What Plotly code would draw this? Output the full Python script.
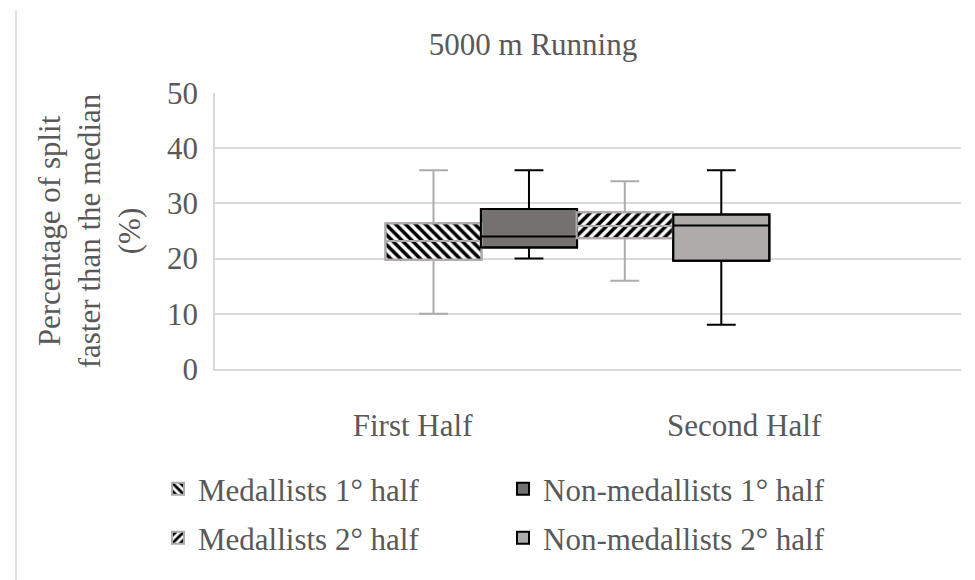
import plotly.graph_objects as go

# ---- data ----
categories = ["First Half", "Second Half"]
series = ["Medallists 1° half", "Non-medallists 1° half",
          "Medallists 2° half", "Non-medallists 2° half"]
lower_whisker = [10, 20, 16, 8]
q1_values = [19.8, 22.0, 23.7, 19.6]
median_values = [23.2, 24.0, 25.9, 26.0]
q3_values = [26.4, 29.0, 28.4, 28.0]
upper_whisker = [36, 36, 34, 36]

# ---- layout / style constants ----
box_pos = [1.063, 1.351, 1.640, 1.931]
box_w = 0.29
line_cols = ["#AFABAB", "#000000", "#AFABAB", "#000000"]
fills = ["white", "#767171", "white", "#AFABAB"]
patterns = ["\\", "", "/", ""]
legend_ids = ["legend", "legend", "legend2", "legend2"]
FONT = "Liberation Serif"
TXT = "#595959"
FS = 31
OFF = 8  # page body margin

fig = go.Figure()
for i, name in enumerate(series):
    pat = (dict(shape=patterns[i], fgcolor="black", bgcolor="white",
                size=7, solidity=0.5, fillmode="replace", fgopacity=1)
           if patterns[i] else dict(shape=""))
    fig.add_trace(go.Bar(
        x=[box_pos[i]], y=[q3_values[i] - q1_values[i]], base=[q1_values[i]],
        width=box_w, name=name, legend=legend_ids[i],
        marker=dict(color=fills[i], pattern=pat, opacity=1,
                    line=dict(color=line_cols[i], width=2)),
        hoverinfo="skip"))
for i, name in enumerate(series):
    fig.add_trace(go.Box(
        x=[box_pos[i]], q1=[q1_values[i]], median=[median_values[i]],
        q3=[q3_values[i]], lowerfence=[lower_whisker[i]],
        upperfence=[upper_whisker[i]], width=box_w, whiskerwidth=0.3,
        fillcolor="rgba(0,0,0,0)", line=dict(color=line_cols[i], width=2),
        boxpoints=False, showlegend=False, hoverinfo="skip", name=name))

fig.update_layout(
    width=975, height=580,
    margin=dict(l=215 - OFF, r=22, t=93 - OFF, b=219),
    paper_bgcolor="white", plot_bgcolor="white",
    barmode="overlay", boxmode="overlay",
    font=dict(family=FONT, size=FS, color=TXT),
    title=dict(text="5000 m Running", x=(533 - OFF) / 975, xref="container",
               xanchor="center", y=1 - (44 - OFF) / 580, yref="container",
               yanchor="middle", font=dict(size=FS, color=TXT, family=FONT)),
    xaxis=dict(range=[0.404, 2.654], tickvals=[1, 2], ticktext=categories,
               showgrid=False, zeroline=False, showline=True,
               linecolor="#D9D9D9", linewidth=1.5, ticks="",
               ticklabelstandoff=28, tickfont=dict(size=FS, color=TXT)),
    yaxis=dict(range=[0, 50], dtick=10, showgrid=True, gridcolor="#D9D9D9",
               gridwidth=1.5, zeroline=False, showline=True,
               linecolor="#D9D9D9", linewidth=1.5, ticks="",
               ticklabelstandoff=9, tickfont=dict(size=FS, color=TXT),
               title=dict(text="Percentage of split<br>faster than the median<br>(%)",
                          standoff=17, font=dict(size=FS, color=TXT))),
    legend=dict(orientation="h", x=(158 - OFF) / 975, xref="container", xanchor="left",
                y=1 - (489 - OFF) / 580, yref="container", yanchor="middle",
                entrywidth=300, entrywidthmode="pixels",
                font=dict(size=FS, color=TXT), bgcolor="rgba(0,0,0,0)"),
    legend2=dict(orientation="h", x=(158 - OFF) / 975, xref="container", xanchor="left",
                 y=1 - (538 - OFF) / 580, yref="container", yanchor="middle",
                 entrywidth=300, entrywidthmode="pixels",
                 font=dict(size=FS, color=TXT), bgcolor="rgba(0,0,0,0)"),
    shapes=[dict(type="line", xref="paper", yref="paper",
                 x0=(16 - 215) / 746, x1=(16 - 215) / 746,
                 y0=(369 - 10) / 276, y1=(369 - 590) / 276,
                 line=dict(color="#D9D9D9", width=1.5))],
)

fig.write_html("out.html")
